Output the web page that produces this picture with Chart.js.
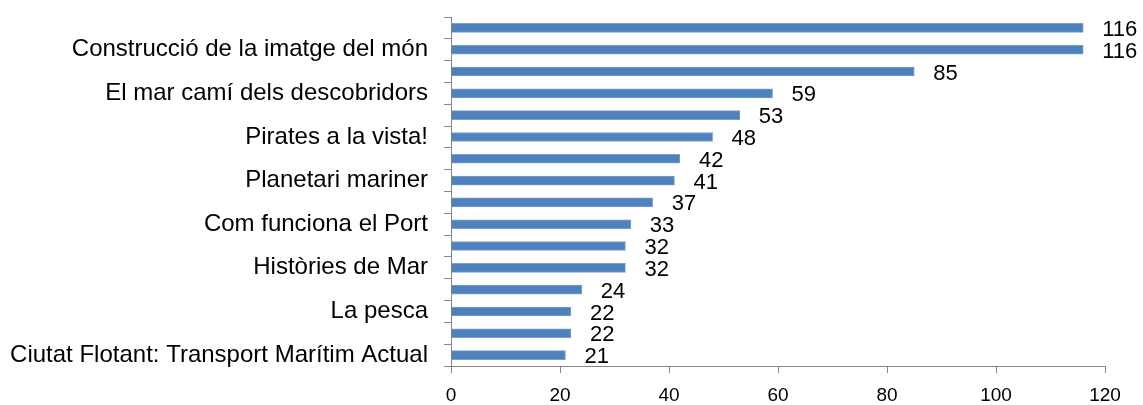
<!DOCTYPE html>
<html>
<head>
<meta charset="utf-8">
<script src="https://cdn.jsdelivr.net/npm/chart.js@4/dist/chart.umd.min.js"></script>
<style>
  html, body { margin: 0; padding: 0; background: #fff; }
  #wrap { width: 1143px; height: 405px; }
</style>
</head>
<body>
<div id="wrap"><canvas id="chart"></canvas></div>
<script>
// categories, top to bottom (Excel skips every other label, so those stay blank)
const categories = [
  '', 'Construcció de la imatge del món',
  '', 'El mar camí dels descobridors',
  '', 'Pirates a la vista!',
  '', 'Planetari mariner',
  '', 'Com funciona el Port',
  '', 'Històries de Mar',
  '', 'La pesca',
  '', 'Ciutat Flotant: Transport Marítim Actual'
];
const visits = [116, 116, 85, 59, 53, 48, 42, 41, 37, 33, 32, 32, 24, 22, 22, 21];
const xTicks = [0, 20, 40, 60, 80, 100, 120];

const FONT = "'Liberation Sans', Arial, sans-serif";
const AXIS = '#868686';

// draws the number to the right of each bar
const valueLabels = {
  id: 'valueLabels',
  afterDatasetsDraw(chart) {
    const ctx = chart.ctx;
    const meta = chart.getDatasetMeta(0);
    ctx.save();
    ctx.font = '22px ' + FONT;
    ctx.fillStyle = '#000';
    ctx.textAlign = 'left';
    ctx.textBaseline = 'middle';
    meta.data.forEach((bar, i) => {
      ctx.fillText(String(visits[i]), bar.x + 19, bar.y + 2);
    });
    ctx.restore();
  }
};

new Chart(document.getElementById('chart'), {
  type: 'bar',
  data: {
    labels: categories,
    datasets: [{
      data: visits,
      backgroundColor: '#4F81BD',
      borderColor: '#7A9FCF',
      borderWidth: 1,
      barThickness: 9
    }]
  },
  plugins: [valueLabels],
  options: {
    indexAxis: 'y',
    responsive: true,
    maintainAspectRatio: false,
    animation: false,
    layout: { padding: { top: 17, right: 38, left: 0, bottom: 0 } },
    plugins: {
      legend: { display: false },
      tooltip: { enabled: false }
    },
    scales: {
      x: {
        min: 0,
        max: 120,
        afterBuildTicks(scale) {
          scale.ticks = xTicks.map(v => ({ value: v }));
        },
        afterFit(scale) { scale.height = 39; },
        border: { display: true, color: AXIS, width: 1 },
        grid: {
          drawOnChartArea: false,
          drawTicks: true,
          tickLength: 7,
          color: AXIS
        },
        ticks: {
          color: '#000',
          font: { family: FONT, size: 19 },
          padding: 11,
          maxRotation: 0
        }
      },
      y: {
        afterFit(scale) {
          scale.width = 451;
          scale.paddingTop = 0;
          scale.paddingBottom = 0;
        },
        border: { display: true, color: AXIS, width: 1 },
        grid: {
          offset: true,
          drawOnChartArea: false,
          drawTicks: true,
          tickLength: 7,
          color: AXIS
        },
        ticks: {
          autoSkip: false,
          color: '#000',
          font: { family: FONT, size: 24 },
          padding: 16
        }
      }
    }
  }
});
</script>
</body>
</html>
